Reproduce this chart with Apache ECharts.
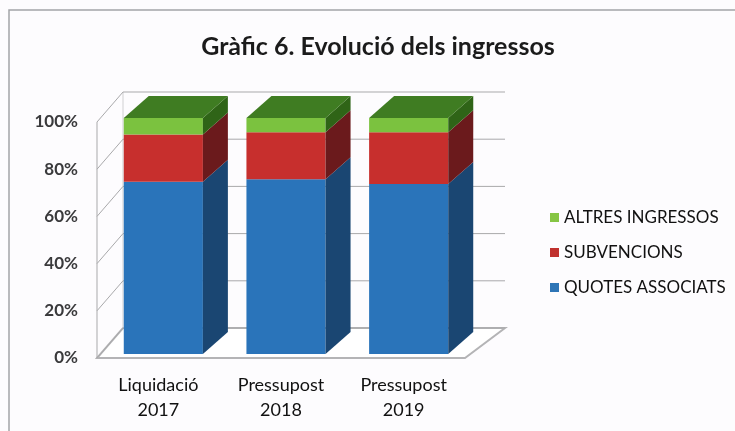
<!DOCTYPE html>
<html>
<head>
<meta charset="utf-8">
<script src="https://cdn.jsdelivr.net/npm/echarts@6/dist/echarts.min.js"></script>
<style>
html, body { margin: 0; padding: 0; background: #fdfcfe; }
#main { width: 735px; height: 431px; }
</style>
</head>
<body>
<div id="main"></div>
<script>
// dades del grafic (percentatges llegits de la imatge)
var categories = ['Liquidació\n2017', 'Pressupost\n2018', 'Pressupost\n2019'];
var quotes = [73, 74, 72];
var subvencions = [20, 20, 22];
var altres = [7, 6, 6];
var yTicks = [0, 20, 40, 60, 80, 100];

var FONT = 'Lato, "Open Sans", sans-serif';

// fondaria de les barres i de les parets (efecte 3D)
var BAR_DX = 25, BAR_DY = -22;
var SHIFT_X = 5, SHIFT_Y = -4;
var WALL_DX_L = 26, WALL_DX_R = 40, WALL_DY = -30;

function sumArr(a, b) {
    return a.map(function (v, i) { return v + b[i]; });
}

function barLayer(name, values, below, c, withTop) {
    var data = values.map(function (v, i) { return [i, below[i], below[i] + v]; });
    return {
        name: name,
        type: 'custom',
        z: 3,
        itemStyle: { color: c.legend },
        encode: { x: 0, y: [1, 2] },
        data: data,
        renderItem: function (params, api) {
            var lo = api.coord([api.value(0), api.value(1)]);
            var hi = api.coord([api.value(0), api.value(2)]);
            var w = api.size([1, 0])[0] * 0.645;
            var x0 = lo[0] - w / 2 + SHIFT_X, x1 = x0 + w;
            var yb = lo[1] + SHIFT_Y, yt = hi[1] + SHIFT_Y;
            var kids = [
                { type: 'polygon', shape: { points: [[x0, yt], [x1, yt], [x1, yb], [x0, yb]] },
                  style: { fill: c.front } },
                { type: 'polygon', shape: { points: [[x1, yt], [x1 + BAR_DX, yt + BAR_DY], [x1 + BAR_DX, yb + BAR_DY], [x1, yb]] },
                  style: { fill: c.side } }
            ];
            if (withTop) {
                kids.push({ type: 'polygon', shape: { points: [[x0, yt], [x0 + BAR_DX, yt + BAR_DY], [x1 + BAR_DX, yt + BAR_DY], [x1, yt]] },
                  style: { fill: c.top } });
            }
            return { type: 'group', children: kids };
        }
    };
}

// parets i terra
var wallSeries = {
    type: 'custom',
    z: 1,
    silent: true,
    data: yTicks.map(function (v) { return [0, v]; }),
    encode: { y: 1 },
    renderItem: function (params, api) {
        var cs = params.coordSys;
        var L = cs.x, R = cs.x + cs.width;
        var y = api.coord([0, api.value(1)])[1];
        var lineStyle = { stroke: '#a9a9ab', lineWidth: 1, fill: null };
        var kids = [
            { type: 'polyline', shape: { points: [[L, y], [L + WALL_DX_L, y + WALL_DY], [R + WALL_DX_R, y + WALL_DY]] },
              style: lineStyle }
        ];
        if (params.dataIndex === 0) {
            var top = cs.y;
            kids.unshift({ type: 'polygon',
                shape: { points: [[L, y], [R, y], [R + WALL_DX_R, y + WALL_DY], [L + WALL_DX_L, y + WALL_DY]] },
                style: { fill: '#ffffff', stroke: '#b4b4b6', lineWidth: 2 } });
            kids.push({ type: 'line', shape: { x1: L, y1: top, x2: L, y2: y }, style: lineStyle });
            kids.push({ type: 'line', shape: { x1: L + WALL_DX_L, y1: top + WALL_DY, x2: L + WALL_DX_L, y2: y + WALL_DY },
                style: { stroke: '#d0d0d2', lineWidth: 1 } });
        }
        return { type: 'group', children: kids };
    }
};

var blueC = { front: '#2a74ba', side: '#1a4672', top: '#24609a', legend: '#2e75b6' };
var redC = { front: '#c72f2d', side: '#6b1a1c', top: '#8f2322', legend: '#c0312e' };
var greenC = { front: '#7bc23f', side: '#2f6417', top: '#3f7c22', legend: '#86c544' };

var myChart = echarts.init(document.getElementById('main'));
var options = {
    backgroundColor: '#fdfcfe',
    animation: false,
    title: {
        text: 'Gràfic 6. Evolució dels ingressos',
        left: 373,
        top: 29,
        textAlign: 'center',
        textStyle: { fontFamily: FONT, fontSize: 25, fontWeight: 'bold', color: '#1b1b1b' }
    },
    graphic: [{
        type: 'rect',
        shape: { x: 9, y: 10, width: 800, height: 500 },
        style: { fill: null, stroke: '#a2a4a8', lineWidth: 1.5 },
        silent: true
    }],
    legend: {
        orient: 'vertical',
        left: 545,
        top: 204,
        data: ['ALTRES INGRESSOS', 'SUBVENCIONS', 'QUOTES ASSOCIATS'],
        icon: 'rect',
        itemWidth: 9,
        itemHeight: 9,
        itemGap: 18,
        selectedMode: false,
        textStyle: { fontFamily: FONT, fontSize: 17, color: '#111111' }
    },
    grid: { left: 97, right: 270, top: 122, bottom: 73 },
    xAxis: {
        type: 'category',
        data: categories,
        axisLine: { show: false },
        axisTick: { show: false },
        axisLabel: { margin: 15, fontFamily: FONT, fontSize: 18, lineHeight: 25, color: '#111111' }
    },
    yAxis: {
        type: 'value',
        min: 0,
        max: 100,
        interval: 20,
        axisLine: { show: false },
        axisTick: { show: false },
        splitLine: { show: false },
        axisLabel: {
            margin: 19,
            formatter: '{value}%',
            fontFamily: FONT, fontSize: 17, fontWeight: 'bold', color: '#3a3a3c',
            padding: [9, 0, 0, 0]
        }
    },
    series: [
        wallSeries,
        barLayer('QUOTES ASSOCIATS', quotes, [0, 0, 0], blueC, false),
        barLayer('SUBVENCIONS', subvencions, quotes, redC, false),
        barLayer('ALTRES INGRESSOS', altres, sumArr(quotes, subvencions), greenC, true)
    ]
};
myChart.setOption(options);
</script>
</body>
</html>
